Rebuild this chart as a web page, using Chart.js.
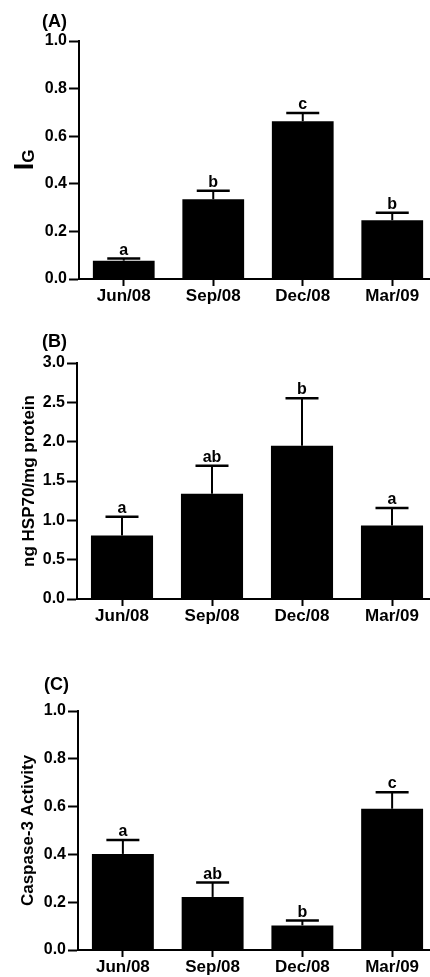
<!DOCTYPE html>
<html lang="en">
<head>
  <meta charset="UTF-8" />
  <title>Seasonal IG, HSP70 and Caspase-3</title>
  <script src="https://cdn.jsdelivr.net/npm/chart.js"></script>
  <style>
    html, body { margin: 0; padding: 0; background: #fff; }
    .page { position: relative; width: 430px; height: 977px; overflow: hidden; }
    .panel { position: absolute; left: 0; width: 440px; }
    .panel canvas { display: block; }
  </style>
</head>
<body>
  <div class="page">
    <div class="panel" id="wrapA" style="top:0px;height:320px"><canvas id="chartA" width="440" height="320"></canvas></div>
    <div class="panel" id="wrapB" style="top:320px;height:330px"><canvas id="chartB" width="440" height="330"></canvas></div>
    <div class="panel" id="wrapC" style="top:650px;height:327px"><canvas id="chartC" width="440" height="327"></canvas></div>
  </div>

  <script>
    // data
    const months = ["Jun/08", "Sep/08", "Dec/08", "Mar/09"];

    const igMean = [0.077, 0.335, 0.663, 0.247];
    const igErr = [0.009, 0.036, 0.035, 0.031];
    const igLetters = ["a", "b", "c", "b"];
    const igTicks = [0, 0.2, 0.4, 0.6, 0.8, 1.0];

    const hspMean = [0.806, 1.339, 1.948, 0.933];
    const hspErr = [0.24, 0.355, 0.605, 0.225];
    const hspLetters = ["a", "ab", "b", "a"];
    const hspTicks = [0, 0.5, 1.0, 1.5, 2.0, 2.5, 3.0];

    const caspMean = [0.402, 0.222, 0.103, 0.591];
    const caspErr = [0.058, 0.06, 0.02, 0.069];
    const caspLetters = ["a", "ab", "b", "c"];
    const caspTicks = [0, 0.2, 0.4, 0.6, 0.8, 1.0];

    const FONT = "'Liberation Sans', Arial, Helvetica, sans-serif";
    Chart.defaults.font.family = FONT;
    Chart.defaults.color = "#000";

    // error bars (upper only) + significance letters
    const errorBars = {
      id: "errorBars",
      afterDatasetsDraw(chart, args, opts) {
        const ctx = chart.ctx;
        const y = chart.scales.y;
        const meta = chart.getDatasetMeta(0);
        ctx.save();
        ctx.strokeStyle = "#000";
        ctx.fillStyle = "#000";
        opts.err.forEach((e, i) => {
          const px = meta.data[i].x;
          const top = y.getPixelForValue(opts.mean[i]);
          const capY = y.getPixelForValue(opts.mean[i] + e);
          ctx.lineWidth = 2;
          ctx.beginPath();
          ctx.moveTo(px, top);
          ctx.lineTo(px, capY);
          ctx.stroke();
          ctx.lineWidth = 2.5;
          ctx.beginPath();
          ctx.moveTo(px - 16.5, capY);
          ctx.lineTo(px + 16.5, capY);
          ctx.stroke();
          ctx.font = "bold 16px " + FONT;
          ctx.textAlign = "center";
          ctx.textBaseline = "alphabetic";
          ctx.fillText(opts.letters[i], px, capY - 4);
        });
        ctx.restore();
      }
    };

    // panel letter and rotated y title (with optional subscript)
    const panelText = {
      id: "panelText",
      afterDraw(chart, args, opts) {
        const ctx = chart.ctx;
        const area = chart.chartArea;
        ctx.save();
        ctx.fillStyle = "#000";
        ctx.font = "bold 18px " + FONT;
        ctx.textAlign = "left";
        ctx.textBaseline = "middle";
        ctx.fillText(opts.panel, opts.panelX, opts.panelY);

        const cy = (area.top + area.bottom) / 2;
        ctx.translate(opts.titleX, cy);
        ctx.rotate(-Math.PI / 2);
        ctx.textBaseline = "alphabetic";
        ctx.font = "bold " + opts.titleSize + "px " + FONT;
        const w1 = ctx.measureText(opts.title).width;
        let w2 = 0;
        if (opts.sub) {
          ctx.font = "bold " + opts.subSize + "px " + FONT;
          w2 = ctx.measureText(opts.sub).width;
        }
        const x0 = -(w1 + w2) / 2;
        ctx.font = "bold " + opts.titleSize + "px " + FONT;
        ctx.fillText(opts.title, x0, 0);
        if (opts.sub) {
          ctx.font = "bold " + opts.subSize + "px " + FONT;
          ctx.fillText(opts.sub, x0 + w1, 1);
        }
        ctx.restore();
      }
    };

    function makePanel(id, p) {
      return new Chart(document.getElementById(id), {
        type: "bar",
        data: {
          labels: months,
          datasets: [{
            data: p.mean,
            backgroundColor: "#000",
            borderWidth: 0,
            categoryPercentage: 1,
            barPercentage: 0.69
          }]
        },
        options: {
          responsive: false,
          animation: false,
          events: [],
          layout: { padding: { top: p.top, right: 3, bottom: 0, left: 0 } },
          plugins: {
            legend: { display: false },
            tooltip: { enabled: false },
            errorBars: { mean: p.mean, err: p.err, letters: p.letters },
            panelText: p.text
          },
          scales: {
            x: {
              offset: true,
              grid: { offset: false, drawOnChartArea: false, drawTicks: true, tickLength: 7, tickWidth: 2, tickColor: "#000" },
              border: { display: true, color: "#000", width: 2 },
              ticks: { font: { size: 17, weight: "bold" }, color: "#000", padding: 0, maxRotation: 0 },
              afterFit(s) { s.height = p.xh; }
            },
            y: {
              min: 0,
              max: p.ticks[p.ticks.length - 1],
              afterBuildTicks(s) { s.ticks = p.ticks.map(v => ({ value: v })); },
              grid: { drawOnChartArea: false, drawTicks: true, tickLength: 10, tickWidth: 2, tickColor: "#000" },
              border: { display: true, color: "#000", width: 2 },
              ticks: { font: { size: 16, weight: "bold" }, color: "#000", padding: 2, callback: v => Number(v).toFixed(1) },
              afterFit(s) { s.width = p.left; }
            }
          }
        },
        plugins: [errorBars, panelText]
      });
    }

    makePanel("chartA", {
      mean: igMean, err: igErr, letters: igLetters, ticks: igTicks,
      top: 41, xh: 41, left: 79,
      text: { panel: "(A)", panelX: 42, panelY: 22, title: "I", sub: "G", titleSize: 27, subSize: 17, titleX: 33 }
    });
    makePanel("chartB", {
      mean: hspMean, err: hspErr, letters: hspLetters, ticks: hspTicks,
      top: 43, xh: 51, left: 77,
      text: { panel: "(B)", panelX: 42, panelY: 22, title: "ng HSP70/mg protein", titleSize: 17, titleX: 34 }
    });
    makePanel("chartC", {
      mean: caspMean, err: caspErr, letters: caspLetters, ticks: caspTicks,
      top: 61, xh: 27, left: 78,
      text: { panel: "(C)", panelX: 44, panelY: 35, title: "Caspase-3 Activity", titleSize: 17, titleX: 33 }
    });
  </script>
</body>
</html>
